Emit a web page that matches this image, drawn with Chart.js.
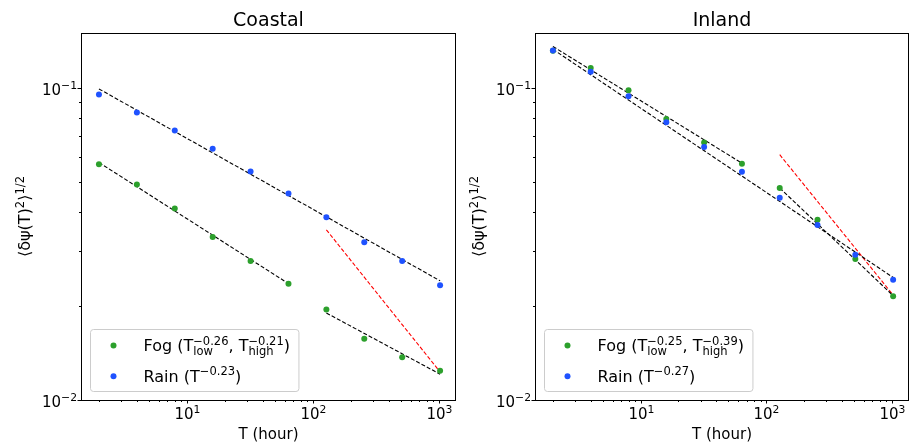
<!DOCTYPE html>
<html>
<head>
<meta charset="utf-8">
<script src="https://cdn.jsdelivr.net/npm/chart.js@4.4.0/dist/chart.umd.min.js"></script>
<style>
  html, body { margin: 0; padding: 0; background: #fff; }
  #wrap { position: relative; width: 913px; height: 448px; overflow: hidden; }
  canvas { position: absolute; top: 0; }
  #coastalChart { left: 0; }
  #inlandChart { left: 460px; }
</style>
</head>
<body>
<div id="wrap">
  <canvas id="coastalChart" width="460" height="448"></canvas>
  <canvas id="inlandChart" width="453" height="448"></canvas>
</div>
<script>
// aggregation period T in hours
const periods = [2, 4, 8, 16, 32, 64, 128, 256, 512, 1024];

// coastal station
const coastalRain = [0.0952, 0.0835, 0.0731, 0.0639, 0.0540, 0.0459, 0.0385, 0.0320, 0.0279, 0.0233];
const coastalFog = [0.0570, 0.0490, 0.0411, 0.0333, 0.0279, 0.0236, 0.0195, 0.0157, 0.0137, 0.0124];
const coastalRainFitT = [2, 1024];
const coastalRainFit = [0.0993, 0.0241];
const coastalFogLowT = [2, 64];
const coastalFogLow = [0.0577, 0.0236];
const coastalFogHighT = [128, 1024];
const coastalFogHigh = [0.0190, 0.0121];
const coastalRefT = [128, 1024];
const coastalRef = [0.0351, 0.0123];

// inland station
const inlandRain = [0.1318, 0.1128, 0.0940, 0.0776, 0.0647, 0.0539, 0.0445, 0.0364, 0.0292, 0.0243];
const inlandFog = [0.1316, 0.1159, 0.0983, 0.0795, 0.0669, 0.0572, 0.0478, 0.0378, 0.0283, 0.0215];
const inlandRainFitT = [2, 1024];
const inlandRainFit = [0.1330, 0.0247];
const inlandFogLowT = [2, 64];
const inlandFogLow = [0.1358, 0.0574];
const inlandFogHighT = [128, 1024];
const inlandFogHigh = [0.0478, 0.0216];
const inlandRefT = [128, 1024];
const inlandRef = [0.0611, 0.0217];

const xRange = [1.44, 1370];
const yRange = [0.01, 0.15];

const FOG_COLOR = '#2ca02c';
const RAIN_COLOR = '#1f52ff';
const FONT = "'DejaVu Sans', sans-serif";

const pts = (xs, ys) => xs.map((x, i) => ({ x: x, y: ys[i] }));

// draw text with matplotlib-like super/subscripts; returns width
function drawRich(ctx, parts, x, y, size, draw = true) {
    let cx = x;
    const small = size * 0.72;
    for (const p of parts) {
        if (typeof p === 'string') {
            ctx.font = size + 'px ' + FONT;
            if (draw) ctx.fillText(p, cx, y);
            cx += ctx.measureText(p).width;
        } else {
            ctx.font = small + 'px ' + FONT;
            let w = 0;
            if (p.sup) {
                if (draw) ctx.fillText(p.sup, cx, y - size * 0.4);
                w = Math.max(w, ctx.measureText(p.sup).width);
            }
            if (p.sub) {
                if (draw) ctx.fillText(p.sub, cx, y + size * 0.22);
                w = Math.max(w, ctx.measureText(p.sub).width);
            }
            cx += w;
        }
    }
    return cx - x;
}

const decorPlugin = {
    id: 'decor',
    afterDatasetsDraw(chart, args, opts) {
        const ctx = chart.ctx;
        const area = chart.chartArea;
        const xs = chart.scales.x;
        const ys = chart.scales.y;
        ctx.save();
        ctx.fillStyle = '#000';
        ctx.strokeStyle = '#000';
        ctx.textBaseline = 'alphabetic';
        ctx.lineWidth = 1;

        // ticks and tick labels
        const labelSize = 15;
        for (let e = -3; e <= 4; e++) {
            for (let d = 1; d <= 9; d++) {
                const v = d * Math.pow(10, e);
                const major = d === 1;
                const len = major ? 3.5 : 2;
                if (v >= xs.min && v <= xs.max) {
                    const px = Math.round(xs.getPixelForValue(v)) + 0.5;
                    ctx.beginPath();
                    ctx.moveTo(px, area.bottom);
                    ctx.lineTo(px, area.bottom + len);
                    ctx.stroke();
                    if (major) {
                        const parts = ['10', { sup: String(e).replace('-', '\u2212') }];
                        const w = drawRich(ctx, parts, 0, 0, labelSize, false);
                        drawRich(ctx, parts, px - w / 2, area.bottom + 18.5, labelSize);
                    }
                }
                if (v >= ys.min && v <= ys.max * 1.0001) {
                    const py = Math.round(ys.getPixelForValue(v)) + 0.5;
                    ctx.beginPath();
                    ctx.moveTo(area.left, py);
                    ctx.lineTo(area.left - len, py);
                    ctx.stroke();
                    if (major) {
                        const parts = ['10', { sup: String(e).replace('-', '\u2212') }];
                        const w = drawRich(ctx, parts, 0, 0, labelSize, false);
                        drawRich(ctx, parts, area.left - 4 - w, py + 6.5, labelSize);
                    }
                }
            }
        }

        // frame
        ctx.strokeRect(Math.round(area.left) + 0.5, Math.round(area.top) + 0.5,
            Math.round(area.right - area.left) - 1, Math.round(area.bottom - area.top));

        // title
        const cx = (area.left + area.right) / 2;
        ctx.font = '19px ' + FONT;
        ctx.textAlign = 'center';
        ctx.fillText(opts.title, cx, area.top - 7);
        // x axis title
        ctx.font = '15px ' + FONT;
        ctx.fillText('T (hour)', cx, area.bottom + 39);
        ctx.textAlign = 'left';

        // y axis title (rotated)
        const yParts = ['\u27e8\u03b4\u03c8(T)', { sup: '2' }, '\u27e9', { sup: '1/2' }];
        const yw = drawRich(ctx, yParts, 0, 0, 16, false);
        ctx.save();
        ctx.translate(area.left - 51, (area.top + area.bottom) / 2);
        ctx.rotate(-Math.PI / 2);
        drawRich(ctx, yParts, -yw / 2, 0, 16);
        ctx.restore();

        // legend
        const lgSize = 16;
        let tw = 0;
        for (const item of opts.legend) tw = Math.max(tw, drawRich(ctx, item.parts, 0, 0, lgSize, false));
        const bx = area.left + 9.5;
        const bw = 53 + tw + 9;
        const bh = 62;
        const by = area.bottom - 8.5 - bh;
        ctx.beginPath();
        ctx.roundRect(bx, by, bw, bh, 3);
        ctx.fillStyle = 'rgba(255,255,255,0.8)';
        ctx.fill();
        ctx.strokeStyle = '#cccccc';
        ctx.stroke();
        opts.legend.forEach((item, i) => {
            const my = by + 16 + i * 30.7;
            ctx.fillStyle = item.color;
            ctx.beginPath();
            ctx.arc(bx + 23, my, 3, 0, Math.PI * 2);
            ctx.fill();
            ctx.fillStyle = '#000';
            drawRich(ctx, item.parts, bx + 53, my + 5.5, lgSize);
        });
        ctx.restore();
    }
};

function buildChart(id, cfg) {
    const dash = { showLine: true, pointRadius: 0, borderWidth: 1.1, borderDash: [4, 2], fill: false };
    return new Chart(document.getElementById(id), {
        type: 'scatter',
        data: {
            datasets: [
                { data: pts(periods, cfg.rain), backgroundColor: RAIN_COLOR, borderWidth: 0, pointRadius: 3 },
                { data: pts(periods, cfg.fog), backgroundColor: FOG_COLOR, borderWidth: 0, pointRadius: 3 },
                Object.assign({ data: pts(cfg.rainFitT, cfg.rainFit), borderColor: '#000' }, dash),
                Object.assign({ data: pts(cfg.fogLowT, cfg.fogLow), borderColor: '#000' }, dash),
                Object.assign({ data: pts(cfg.fogHighT, cfg.fogHigh), borderColor: '#000' }, dash),
                Object.assign({ data: pts(cfg.refT, cfg.ref), borderColor: '#ff0000' }, dash)
            ]
        },
        options: {
            responsive: false,
            animation: false,
            devicePixelRatio: 1,
            layout: { padding: cfg.padding },
            scales: {
                x: { type: 'logarithmic', min: xRange[0], max: xRange[1], display: false },
                y: { type: 'logarithmic', min: yRange[0], max: yRange[1], display: false }
            },
            plugins: {
                legend: { display: false },
                tooltip: { enabled: false },
                decor: { title: cfg.title, legend: cfg.legend }
            }
        },
        plugins: [decorPlugin]
    });
}

document.addEventListener('DOMContentLoaded', () => {
    buildChart('coastalChart', {
        title: 'Coastal',
        padding: { left: 81, right: 1, top: 33, bottom: 48 },
        rain: coastalRain, fog: coastalFog,
        rainFitT: coastalRainFitT, rainFit: coastalRainFit,
        fogLowT: coastalFogLowT, fogLow: coastalFogLow,
        fogHighT: coastalFogHighT, fogHigh: coastalFogHigh,
        refT: coastalRefT, ref: coastalRef,
        legend: [
            { color: FOG_COLOR, parts: ['Fog (T', { sub: 'low', sup: '\u22120.26' }, ', T', { sub: 'high', sup: '\u22120.21' }, ')'] },
            { color: RAIN_COLOR, parts: ['Rain (T', { sup: '\u22120.23' }, ')'] }
        ]
    });
    buildChart('inlandChart', {
        title: 'Inland',
        padding: { left: 75, right: 1, top: 33, bottom: 48 },
        rain: inlandRain, fog: inlandFog,
        rainFitT: inlandRainFitT, rainFit: inlandRainFit,
        fogLowT: inlandFogLowT, fogLow: inlandFogLow,
        fogHighT: inlandFogHighT, fogHigh: inlandFogHigh,
        refT: inlandRefT, ref: inlandRef,
        legend: [
            { color: FOG_COLOR, parts: ['Fog (T', { sub: 'low', sup: '\u22120.25' }, ', T', { sub: 'high', sup: '\u22120.39' }, ')'] },
            { color: RAIN_COLOR, parts: ['Rain (T', { sup: '\u22120.27' }, ')'] }
        ]
    });
});
</script>
</body>
</html>
